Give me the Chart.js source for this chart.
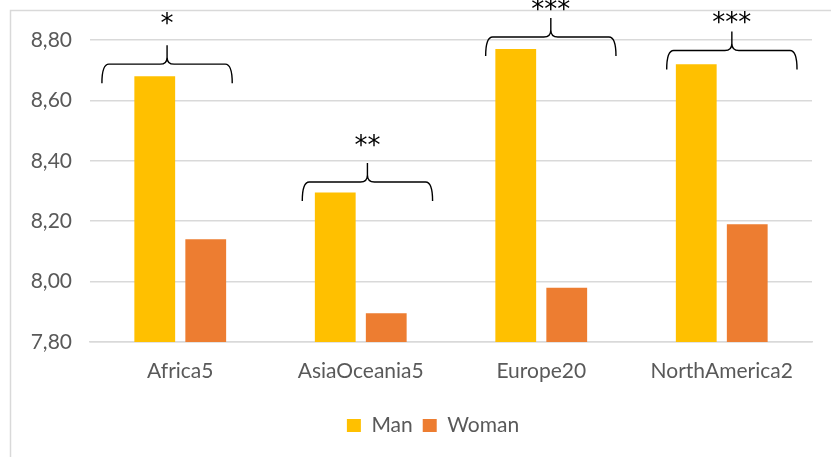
<!doctype html>
<html>
<head>
<title>Man / Woman</title>
<script src="https://cdn.jsdelivr.net/npm/chart.js@4.4.0/dist/chart.umd.min.js"></script>
<style>
body { margin: 0; background: #fff; }
canvas { display: block; }
</style>
</head>
<body>
<canvas id="chart-area" width="831" height="457"></canvas>
<script>
var categories = ['Africa5', 'AsiaOceania5', 'Europe20', 'NorthAmerica2'];
var manValues = [8.68, 8.295, 8.77, 8.72];
var womanValues = [8.14, 7.895, 7.98, 8.19];
var yTicks = [7.8, 8.0, 8.2, 8.4, 8.6, 8.8];

// significance marks over each group
var stars = ['*', '**', '***', '***'];
var braceLevels = [8.72, 8.33, 8.81, 8.765];
var braceShift = [-0.073, 0.037, 0.053, 0.056];
var starLevels = [8.87, 8.468, 8.918, 8.876];

var grey = '#595959';
var gridColor = '#d9d9d9';

var braces = {
    id: 'braces',
    afterLayout: function(chart) {
        // legend sits a bit right of the canvas centre, as in the original
        chart.legend.left += 22;
        chart.legend.right += 22;
    },
    beforeDraw: function(chart) {
        var ctx = chart.ctx;
        ctx.save();
        ctx.fillStyle = '#fff';
        ctx.fillRect(0, 0, chart.width, chart.height);
        ctx.strokeStyle = gridColor;
        ctx.lineWidth = 1.5;
        ctx.strokeRect(10.5, 10.5, chart.width + 50, chart.height + 50);
        ctx.restore();
    },
    afterDraw: function(chart) {
        var ctx = chart.ctx;
        var xs = chart.scales.x, ys = chart.scales.y;
        var step = xs.getPixelForValue(1) - xs.getPixelForValue(0);
        var half = 0.361 * step, h = 19, r = 7;
        ctx.save();
        ctx.strokeStyle = '#000';
        ctx.lineWidth = 1.4;
        for (var i = 0; i < categories.length; i++) {
            var xc = xs.getPixelForValue(i) + braceShift[i] * step;
            var x0 = xc - half, x1 = xc + half;
            var yh = ys.getPixelForValue(braceLevels[i]);
            ctx.beginPath();
            ctx.moveTo(x0, yh + h);
            ctx.quadraticCurveTo(x0, yh, x0 + r, yh);
            ctx.lineTo(xc - r, yh);
            ctx.quadraticCurveTo(xc, yh, xc, yh - r);
            ctx.lineTo(xc, yh - h);
            ctx.moveTo(xc, yh - r);
            ctx.quadraticCurveTo(xc, yh, xc + r, yh);
            ctx.lineTo(x1 - r, yh);
            ctx.quadraticCurveTo(x1, yh, x1, yh + h);
            ctx.stroke();

            ctx.fillStyle = '#000';
            ctx.font = '26px "DejaVu Sans"';
            ctx.textAlign = 'center';
            ctx.textBaseline = 'alphabetic';
            var m = ctx.measureText(stars[i]);
            var yc = ys.getPixelForValue(starLevels[i]);
            ctx.fillText(stars[i], xc, yc + (m.actualBoundingBoxAscent - m.actualBoundingBoxDescent) / 2);
        }
        ctx.restore();
    }
};

var ctx = document.getElementById('chart-area').getContext('2d');
window.myBar = new Chart(ctx, {
    type: 'bar',
    data: {
        labels: categories,
        datasets: [{
            label: 'Man',
            backgroundColor: '#FFC000',
            data: manValues
        }, {
            label: 'Woman',
            backgroundColor: '#ED7D31',
            data: womanValues
        }]
    },
    options: {
        responsive: false,
        animation: false,
        barPercentage: 0.8,
        categoryPercentage: 0.565,
        layout: { padding: { top: 40, left: 10, right: 19, bottom: 11 } },
        scales: {
            x: {
                grid: { display: false },
                border: { color: gridColor, width: 1.5 },
                ticks: { color: grey, font: { family: 'Lato', size: 21 }, padding: 9 },
                afterFit: function(s) { s.height = 63; }
            },
            y: {
                min: 7.8,
                max: 8.8,
                grid: { color: gridColor, lineWidth: 1.5, drawTicks: false },
                border: { display: false },
                afterBuildTicks: function(s) {
                    s.ticks = yTicks.map(function(v) { return { value: v }; });
                },
                ticks: {
                    color: grey,
                    font: { family: 'Lato', size: 21 },
                    padding: 18,
                    callback: function(v) { return v.toFixed(2).replace('.', ','); }
                },
                afterFit: function(s) { s.width = 80; }
            }
        },
        plugins: {
            legend: {
                position: 'bottom',
                labels: {
                    color: grey,
                    font: { family: 'Lato', size: 21 },
                    boxWidth: 14,
                    boxHeight: 13,
                    padding: 10
                }
            },
            tooltip: { enabled: false }
        }
    },
    plugins: [braces]
});
</script>
</body>
</html>
